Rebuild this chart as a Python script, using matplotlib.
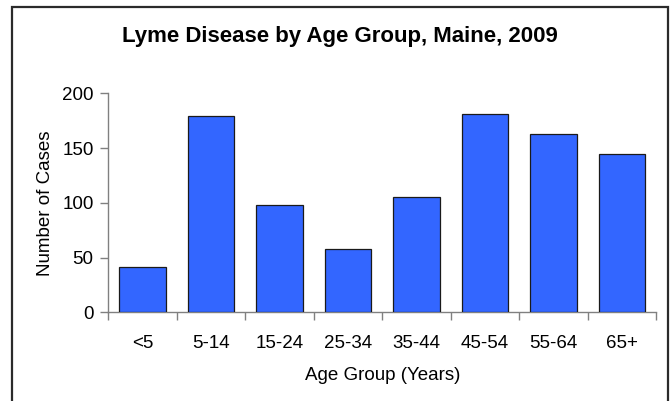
import matplotlib
matplotlib.use("Agg")
from matplotlib import pyplot as plt
from matplotlib.patches import Rectangle
import numpy as np

plt.rcParams['font.family'] = ['Liberation Sans', 'DejaVu Sans']

# Data
age_groups = ['<5', '5-14', '15-24', '25-34', '35-44', '45-54', '55-64', '65+']
cases = [41, 179, 98, 58, 105, 181, 163, 145]

fig = plt.figure(figsize=(6.7, 4.01), dpi=100)
ax = fig.add_axes([0.1616, 0.2212, 0.818, 0.5461])

x = np.arange(len(age_groups))
ax.bar(x, cases, width=0.675, color='#3366ff', edgecolor='#1a1a1a', linewidth=0.9, zorder=3)

ax.set_xlim(-0.5, len(age_groups) - 0.5)
ax.set_ylim(0, 200)
ax.set_yticks([0, 50, 100, 150, 200])

# category boundaries get the tick marks, labels sit in the middle
ax.set_xticks(np.arange(len(age_groups) + 1) - 0.5)
ax.set_xticklabels([])
ax.set_xticks(x, minor=True)
ax.set_xticklabels(age_groups, minor=True)
ax.tick_params(axis='x', which='minor', length=0, pad=16, labelsize=13.5)
ax.tick_params(axis='x', which='major', length=5.5, width=1, color='#808080', direction='out')
ax.tick_params(axis='y', length=5.5, width=1, color='#808080', pad=5, labelsize=13.5)

for side in ['top', 'right']:
    ax.spines[side].set_visible(False)
for side in ['left', 'bottom']:
    ax.spines[side].set_color('#808080')
    ax.spines[side].set_linewidth(1)

ax.set_ylabel('Number of Cases', fontsize=13.5, labelpad=6)
ax.set_xlabel('Age Group (Years)', fontsize=13.5, labelpad=11)

fig.text(0.508, 0.91, 'Lyme Disease by Age Group, Maine, 2009', ha='center', va='center',
         fontsize=16, fontweight='bold')

# outer chart frame (bottom edge runs off the image)
frame = Rectangle((12.5 / 670, -0.05), (668 - 12.5) / 670, 1.05 - 7.5 / 401,
                  transform=fig.transFigure, fill=False, edgecolor='#2b2b2b', linewidth=1.6)
fig.patches.append(frame)

fig.savefig('out.png', dpi=100)
